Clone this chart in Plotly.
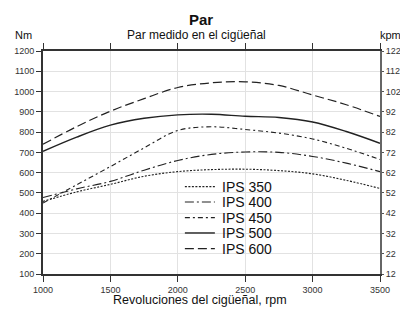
import plotly.graph_objects as go

rpm = [1000, 1250, 1500, 1750, 2000, 2250, 2500, 2750, 3000, 3250, 3500]
ips350 = [458, 505, 542, 582, 605, 615, 617, 610, 594, 562, 522]
ips400 = [477, 520, 557, 612, 660, 690, 702, 700, 680, 647, 605]
ips450 = [450, 540, 630, 722, 808, 826, 813, 795, 766, 720, 665]
ips500 = [705, 775, 834, 868, 885, 888, 878, 872, 850, 803, 745]
ips600 = [740, 827, 903, 965, 1020, 1043, 1048, 1030, 983, 935, 877]

names = ["IPS 350", "IPS 400", "IPS 450", "IPS 500", "IPS 600"]
series = [ips350, ips400, ips450, ips500, ips600]
dashes = ["2px,1.5px", "9px,3px,2px,3px", "5px,3px,2px,3px", "solid", "9px,4px"]
widths = [1.1, 1.1, 1.1, 1.4, 1.2]

x_ticks = [1000, 1500, 2000, 2500, 3000, 3500]
y_ticks = list(range(100, 1201, 100))
y2_ticks = list(range(12, 123, 10))

FONT = "Liberation Sans, Arial, sans-serif"
TICKFONT = dict(family="Liberation Sans Narrow, Liberation Sans, Arial, sans-serif", size=9, color="#333")
LC = "#222222"

fig = go.Figure()
for n, s, d, w in zip(names, series, dashes, widths):
    fig.add_trace(go.Scatter(x=rpm, y=s, mode="lines", name=n,
                             line=dict(color=LC, width=w, dash=d, shape="spline"),
                             showlegend=False, hoverinfo="skip"))
# dummy trace to activate right axis
fig.add_trace(go.Scatter(x=[rpm[0]], y=[y2_ticks[0]], yaxis="y2", mode="markers",
                         marker=dict(opacity=0), showlegend=False, hoverinfo="skip"))

fig.update_layout(
    width=400, height=309,
    margin=dict(l=43, r=20, t=51, b=35, autoexpand=False),
    paper_bgcolor="white", plot_bgcolor="white",
    font=dict(family=FONT, color="#111"),
    xaxis=dict(range=[1000, 3500], tickvals=x_ticks, ticks="outside", ticklen=6,
               tickcolor="#333", tickwidth=1, showline=True, linecolor="#333", linewidth=1.5,
               mirror="ticks", showgrid=True, gridcolor="#e2e2e2", gridwidth=1,
               tickfont=TICKFONT, zeroline=False, automargin=False),
    yaxis=dict(range=[100, 1200], tickvals=y_ticks, ticks="outside", ticklen=5,
               tickcolor="#333", tickwidth=1, showline=True, linecolor="#333", linewidth=1.8,
               showgrid=True, gridcolor="#e2e2e2", gridwidth=1,
               tickfont=TICKFONT, zeroline=False, automargin=False),
    yaxis2=dict(range=[12, 122], tickvals=y2_ticks, overlaying="y", side="right",
                ticks="outside", ticklen=2, tickcolor="#555", showline=True,
                linecolor="#666", linewidth=1.8, showgrid=False, zeroline=False,
                tickfont=TICKFONT, automargin=False),
)

# white legend box (between grid and traces)
fig.add_shape(type="rect", xref="paper", yref="paper", x0=0.395, x1=0.742, y0=0.05, y1=0.44,
              fillcolor="white", line=dict(width=0), layer="between")

leg_y = [0.392, 0.323, 0.253, 0.184, 0.114]
for n, d, w, yy in zip(names, dashes, widths, leg_y):
    fig.add_shape(type="line", xref="paper", yref="paper", x0=0.421, x1=0.510, y0=yy, y1=yy,
                  line=dict(color=LC, width=w, dash=d))
    fig.add_annotation(text=n, xref="paper", yref="paper", x=0.528, y=yy, xanchor="left",
                       yanchor="middle", showarrow=False, borderpad=0,
                       font=dict(family=FONT, size=14, color="#111"))

fig.add_annotation(text="<b>Par</b>", xref="paper", yref="paper", x=0.47, y=1.142,
                   xanchor="center", yanchor="middle", showarrow=False,
                   font=dict(family=FONT, size=15, color="#111"))
fig.add_annotation(text="Par medido en el cigüeñal", xref="paper", yref="paper", x=0.455, y=1.07,
                   xanchor="center", yanchor="middle", showarrow=False,
                   font=dict(family=FONT, size=12, color="#111"))
fig.add_annotation(text="Nm", xref="paper", yref="paper", x=-0.058, y=1.07,
                   xanchor="center", yanchor="middle", showarrow=False,
                   font=dict(family=FONT, size=11, color="#111"))
fig.add_annotation(text="kpm", xref="paper", yref="paper", x=1.03, y=1.07,
                   xanchor="center", yanchor="middle", showarrow=False,
                   font=dict(family=FONT, size=11, color="#111"))
fig.add_annotation(text="Revoluciones del cigüeñal, rpm", xref="paper", yref="paper", x=0.465, y=-0.118,
                   xanchor="center", yanchor="middle", showarrow=False,
                   font=dict(family=FONT, size=12.5, color="#111"))

fig.write_html("out.html", config={"displayModeBar": False},
               post_script="document.body.style.margin='0';document.body.style.overflow='hidden';")
